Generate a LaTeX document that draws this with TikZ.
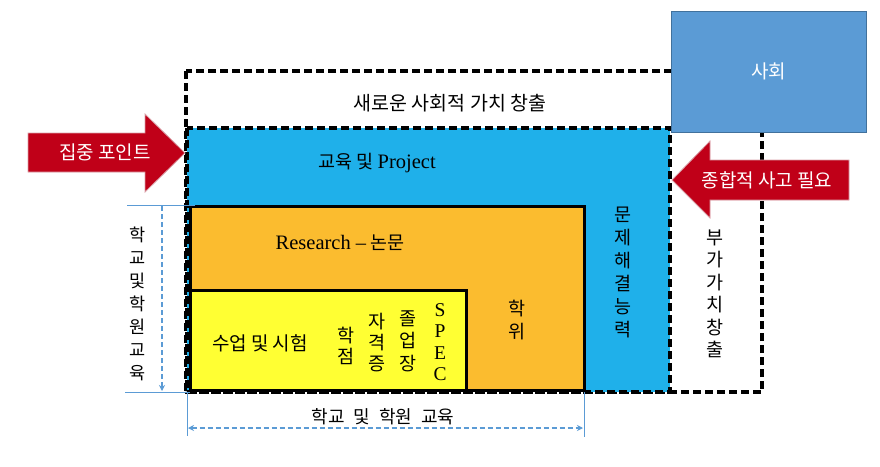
\documentclass[tikz,border=0pt]{standalone}
\usepackage{fontspec}
\setmainfont{Liberation Serif}
\newfontfamily\kr{Noto Sans CJK KR}
\usetikzlibrary{arrows.meta}
\definecolor{cblue}{HTML}{1FB0EA}
\definecolor{corange}{HTML}{FBBC2F}
\definecolor{cyellow}{HTML}{FFFF33}
\definecolor{csoc}{HTML}{5B9BD5}
\definecolor{csocb}{HTML}{41719C}
\definecolor{cred}{HTML}{C00018}
\definecolor{credb}{HTML}{D9A0A8}
\definecolor{cdim}{HTML}{5B9BD5}
\newcommand{\lat}[1]{{\rmfamily\fontsize{20.5}{22}\selectfont #1}}
\begin{document}
\begin{tikzpicture}[x=1pt,y=-1pt,
  blackdash/.style={draw=black,line width=3.2pt,dash pattern=on 8pt off 4pt},
  solidbox/.style={draw=black,line width=3pt},
  dimdash/.style={draw=cdim,line width=1.6pt,dash pattern=on 5pt off 3pt},
  dimline/.style={draw=cdim,line width=0.9pt},
  redarrow/.style={fill=cred,draw=credb,line width=0.8pt},
  lbl/.style={font=\kr\fontsize{18.5}{22}\selectfont,text=black,inner sep=0pt},
  vlbl/.style={lbl,align=center},
  wlbl/.style={font=\kr\fontsize{19}{22}\selectfont,text=white,inner sep=0pt}]
\useasboundingbox (0,0) rectangle (880,466);
% outer dashed region
\draw[blackdash,fill=white] (186,71) rectangle (762,392);
% blue region
\fill[cblue] (187,128) rectangle (670,392);
% orange region
\draw[solidbox,fill=corange] (190,206) rectangle (584,390);
% yellow region
\draw[solidbox,fill=cyellow] (190,290) rectangle (466,390);
% blue dashed border
\draw[blackdash] (187,128) rectangle (670,392);
% society box
\node[fill=csoc,draw=csocb,line width=0.8pt,minimum width=195pt,minimum height=121pt,inner sep=0pt,
  font=\kr\fontsize{19}{22}\selectfont,text=white] (soc) at (768.5,71.5) {사회};
% red arrows
\draw[redarrow] (28,133) -- (145,133) -- (145,114) -- (185,153) -- (145,192) -- (145,172) -- (28,172) -- cycle;
\node[wlbl] (focus) at (105,152) {집중 포인트};
\draw[redarrow] (849,160) -- (710,160) -- (710,141) -- (672,180) -- (710,218) -- (710,200) -- (849,200) -- cycle;
\node[wlbl] (think) at (767,180) {종합적 사고 필요};
% texts
\node[lbl,font=\kr\fontsize{19.5}{22}\selectfont] (title) at (450,103) {새로운 사회적 가치 창출};
\node[lbl] (edu) at (377,163) {교육 및 \lat{Project}};
\node[lbl] (research) at (340,243) {\lat{Research –} 논문};
\node[lbl,font=\kr\fontsize{19}{22}\selectfont] (classes) at (260,343) {수업 및 시험};
\node[vlbl,font=\kr\fontsize{18.5}{21}\selectfont] (credit) at (346,346) {학\\점};
\node[vlbl,font=\kr\fontsize{18.5}{21}\selectfont] (cert) at (377,343) {자\\격\\증};
\node[vlbl,font=\kr\fontsize{18.5}{22.5}\selectfont] (dipl) at (408,341) {졸\\업\\장};
\node[vlbl,font=\rmfamily\fontsize{19.5}{21.5}\selectfont] (spec) at (440,342) {S\\P\\E\\C};
\node[vlbl,font=\kr\fontsize{18.5}{23}\selectfont] (degree) at (517,320) {학\\위};
\node[vlbl,font=\kr\fontsize{18.5}{23}\selectfont] (solve) at (623,272) {문\\제\\해\\결\\능\\력};
\node[vlbl,font=\kr\fontsize{18.5}{22.5}\selectfont] (addval) at (715,294) {부\\가\\가\\치\\창\\출};
\node[vlbl,font=\kr\fontsize{17.5}{23}\selectfont] (leftdim) at (138,304) {학\\교\\및\\학\\원\\교\\육};
\node[lbl,font=\kr\fontsize{18}{22}\selectfont] (botdim) at (383,417) {학교\hspace{9pt}및\hspace{9pt}학원\hspace{9pt}교육};
% dimension lines
\coordinate (vtop) at (162,206);
\coordinate (vbot) at (162,391);
\coordinate (ha) at (188,428);
\coordinate (hb) at (583,428);
\coordinate (e1a) at (127,205); \coordinate (e1b) at (195,205);
\coordinate (e2a) at (125,392); \coordinate (e2b) at (190,392);
\coordinate (e3a) at (187,393); \coordinate (e3b) at (187,436);
\coordinate (e4a) at (584,392); \coordinate (e4b) at (584,437);
\draw[dimline] (e1a) -- (e1b);
\draw[dimline] (e2a) -- (e2b);
\draw[dimline] (e3a) -- (e3b);
\draw[dimline] (e4a) -- (e4b);
\draw[dimdash,-{Stealth[length=6pt,width=6pt]}] (vtop) -- (vbot);
\draw[dimdash,{Stealth[length=6pt,width=6pt]}-{Stealth[length=6pt,width=6pt]}] (ha) -- (hb);
\end{tikzpicture}
\end{document}
